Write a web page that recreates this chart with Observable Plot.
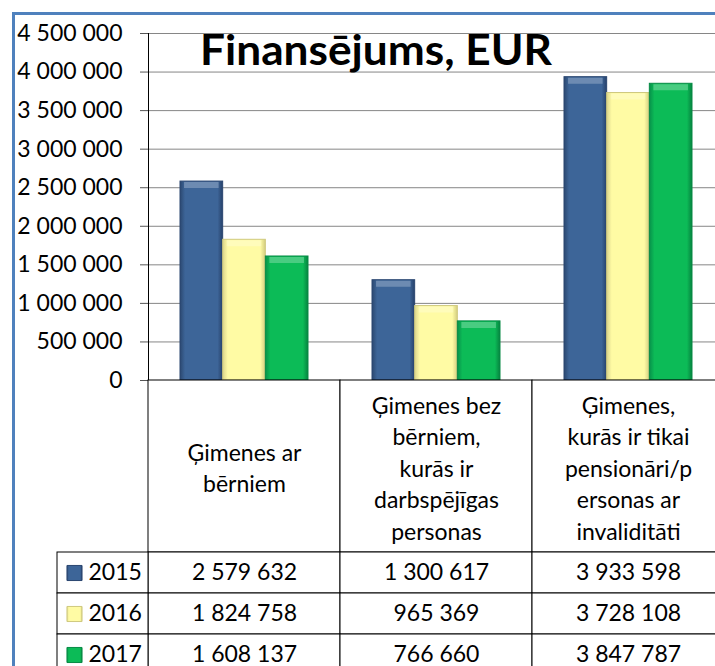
<!DOCTYPE html>
<html><head><meta charset="utf-8">
<script src="https://cdn.jsdelivr.net/npm/d3@7"></script>
<script src="https://cdn.jsdelivr.net/npm/@observablehq/plot@0.6"></script>
<style>
html,body{margin:0;padding:0;background:#fff;}
#chart{position:relative;width:715px;height:666px;overflow:hidden;background:#fff;font-family:Lato,sans-serif;}
#border{position:absolute;left:12px;top:12px;width:900px;height:900px;border-left:3px solid #4F81BD;border-top:3px solid #4F81BD;box-sizing:border-box;}
.layer{position:absolute;}
</style></head><body>
<svg width="0" height="0" style="position:absolute">
<defs>
<linearGradient id="g2015" x1="0" x2="1" y1="0" y2="0">
<stop offset="0" stop-color="#2b4870"/><stop offset="0.12" stop-color="#3d6598"/><stop offset="0.88" stop-color="#3d6598"/><stop offset="1" stop-color="#27416a"/>
</linearGradient>
<linearGradient id="g2016" x1="0" x2="1" y1="0" y2="0">
<stop offset="0" stop-color="#dcd68c"/><stop offset="0.12" stop-color="#fffba4"/><stop offset="0.88" stop-color="#fffba4"/><stop offset="1" stop-color="#d3cd80"/>
</linearGradient>
<linearGradient id="g2017" x1="0" x2="1" y1="0" y2="0">
<stop offset="0" stop-color="#07914a"/><stop offset="0.12" stop-color="#0cbb57"/><stop offset="0.88" stop-color="#0cbb57"/><stop offset="1" stop-color="#06833f"/>
</linearGradient>
</defs>
</svg>
<div id="chart"><div id="border"></div></div>
<script>
// ---- data ----
const categories = [
  "Ģimenes ar bērniem",
  "Ģimenes bez bērniem, kurās ir darbspējīgas personas",
  "Ģimenes, kurās ir tikai pensionāri/personas ar invaliditāti"
];
const categoryLabels = [
  "Ģimenes ar\nbērniem",
  "Ģimenes bez\nbērniem,\nkurās ir\ndarbspējīgas\npersonas",
  "Ģimenes,\nkurās ir tikai\npensionāri/p\nersonas ar\ninvaliditāti"
];
const years = [2015, 2016, 2017];
const values2015 = [2579632, 1300617, 3933598];
const values2016 = [1824758, 965369, 3728108];
const values2017 = [1608137, 766660, 3847787];
const yTicks = [0, 500000, 1000000, 1500000, 2000000, 2500000, 3000000, 3500000, 4000000, 4500000];
const titleText = "Finansējums, EUR";

// ---- styles ----
const strokeColors = {2015: "#2a4670", 2016: "#cfc97e", 2017: "#078a45"};
const fmt = d3.formatLocale({decimal: ",", thousands: " ", grouping: [3], currency: ["", ""]}).format(",d");
const series = [values2015, values2016, values2017];
const rows = years.flatMap((yr, j) => categories.map((c, i) => ({category: c, year: yr, value: series[j][i]})));
const baseStyle = {fontFamily: "Lato, sans-serif", fontSize: "23px", color: "#000", background: "transparent", overflow: "visible", maxWidth: "none"};

const chart = document.getElementById("chart");
function place(node, left, top) {
  const wrap = document.createElement("div");
  wrap.className = "layer";
  wrap.style.left = left + "px";
  wrap.style.top = top + "px";
  wrap.appendChild(node);
  chart.appendChild(wrap);
}

// ---- bars ----
const bars = Plot.plot({
  width: 740, height: 381,
  marginLeft: 148, marginRight: 16, marginTop: 33, marginBottom: 1,
  style: baseStyle,
  fx: {domain: categories, padding: 0, axis: null, round: false},
  x: {domain: years, paddingInner: 0, paddingOuter: 0.75, axis: null, round: false},
  y: {domain: [0, 4500000], axis: null},
  color: {type: "identity"},
  marks: [
    Plot.gridY(yTicks, {stroke: "#868686", strokeOpacity: 1}),
    Plot.axisY({ticks: yTicks, tickSize: 8, tickPadding: 18, tickFormat: fmt, label: null, stroke: "#555", fill: "#000"}),
    Plot.barY(rows, {fx: "category", x: "year", y: "value", fill: d => `url(#g${d.year})`, stroke: d => strokeColors[d.year], strokeWidth: 1, inset: 0}),
    Plot.tickY(rows, {fx: "category", x: "year", y: "value", stroke: "#fff", strokeOpacity: 0.25, strokeWidth: 6, dy: 3.5, inset: 4}),
    Plot.ruleY([0], {stroke: "#000"}),
    Plot.frame({anchor: "left", facetAnchor: "left", stroke: "#000"})
  ]
});
place(bars, 0, 0);

// ---- title ----
const ns = "http://www.w3.org/2000/svg";
const tsvg = document.createElementNS(ns, "svg");
tsvg.setAttribute("width", 715); tsvg.setAttribute("height", 90);
tsvg.style.overflow = "visible";
const tt = document.createElementNS(ns, "text");
tt.setAttribute("x", 376); tt.setAttribute("y", 65);
tt.setAttribute("text-anchor", "middle");
tt.setAttribute("font-family", "Lato, sans-serif");
tt.setAttribute("font-weight", "bold");
tt.setAttribute("font-size", 42);
tt.setAttribute("textLength", 352);
tt.setAttribute("lengthAdjust", "spacingAndGlyphs");
tt.textContent = titleText;
tsvg.appendChild(tt);
place(tsvg, 0, 0);

// ---- table header (category labels) ----
const header = Plot.plot({
  width: 740, height: 172,
  marginLeft: 148, marginRight: 16, marginTop: 0, marginBottom: 0,
  style: baseStyle,
  x: {domain: categories, padding: 0, axis: null, round: false},
  marks: [
    Plot.cell(categories, {x: d => d, fill: "white", stroke: "#000", inset: 0}),
    Plot.text(categories, {x: d => d, text: (d, i) => categoryLabels[i], lineHeight: 1.37, fill: "#000"})
  ]
});
place(header, 0, 380);

// ---- table values ----
const valuesTable = Plot.plot({
  width: 740, height: 123,
  marginLeft: 148, marginRight: 16, marginTop: 0, marginBottom: 0,
  style: baseStyle,
  x: {domain: categories, padding: 0, axis: null, round: false},
  y: {domain: years, padding: 0, axis: null, round: false},
  marks: [
    Plot.cell(rows, {x: "category", y: "year", fill: "white", stroke: "#000", inset: 0}),
    Plot.text(rows, {x: "category", y: "year", text: d => fmt(d.value), fill: "#000"})
  ]
});
place(valuesTable, 0, 552);

// ---- legend column ----
const legend = Plot.plot({
  width: 91, height: 123,
  marginLeft: 0, marginRight: 0, marginTop: 0, marginBottom: 0,
  style: baseStyle,
  y: {domain: years, padding: 0, axis: null, round: false},
  color: {type: "identity"},
  marks: [
    Plot.cell(years, {y: d => d, fill: "white", stroke: "#000", inset: 0}),
    Plot.dot(years, {y: d => d, frameAnchor: "left", dx: 17, symbol: "square", r: 8.5, fill: d => `url(#g${d})`, stroke: d => strokeColors[d], strokeWidth: 1}),
    Plot.text(years, {y: d => d, frameAnchor: "left", dx: 31, textAnchor: "start", text: d => String(d), fill: "#000"})
  ]
});
place(legend, 57, 552);
</script>
</body></html>
